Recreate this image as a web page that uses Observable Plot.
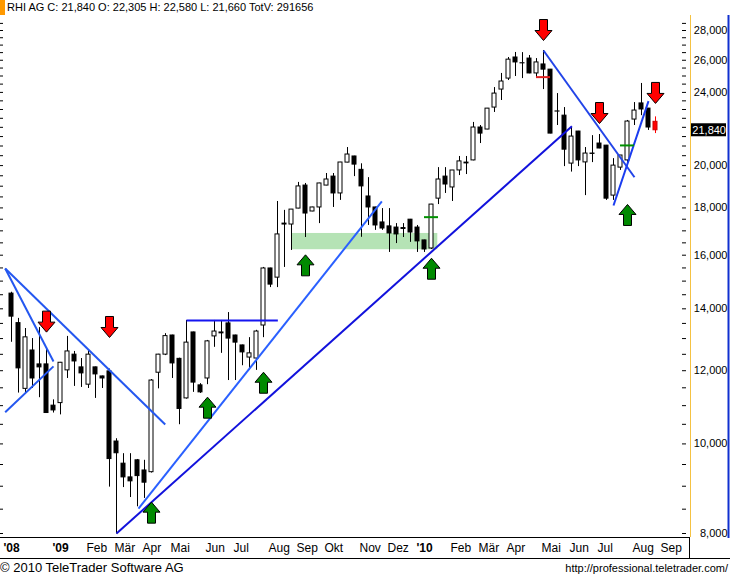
<!DOCTYPE html>
<html><head><meta charset="utf-8">
<script src="https://cdn.jsdelivr.net/npm/d3@7"></script>
<script src="https://cdn.jsdelivr.net/npm/@observablehq/plot@0.6"></script>
<style>
body{margin:0;background:#fff;}
#wrap{position:relative;width:730px;height:577px;overflow:hidden;font-family:"Liberation Sans",Arial,sans-serif;color:#000;}
#mark{position:absolute;left:0;top:0;width:5px;height:15px;background:#ff9900;}
#hdr{position:absolute;left:7px;top:0;font-size:11px;line-height:14px;white-space:nowrap;}
#chart{position:absolute;left:0;top:15px;}
#ftl{position:absolute;left:0;top:560px;font-size:13px;line-height:16px;white-space:nowrap;}
#ftr{position:absolute;right:2px;top:561px;font-size:11px;line-height:15px;white-space:nowrap;}
</style></head>
<body><div id="wrap"><div id="mark"></div><div id="hdr"></div><div id="chart"></div><div id="ftl"></div><div id="ftr"></div></div>
<script>
// ---- data (weekly bars, RHI AG, Nov 2008 - Aug 2010) ----
const symbolName = "RHI AG";
const totalVolume = 291656;
const open  = [14540,13510,11470,12620,12190,12190,11000,11070,12010,12490,12100,11590,12100,11830,11980,10060,9520,9200,9600,9360,9320,11940,12490,13100,12360,11200,13200,11570,11770,13070,13170,13500,13100,12780,12400,12370,13430,15480,15130,17310,17270,17970,19030,17840,18020,19030,19460,18660,20150,20460,19790,18520,18020,17360,17190,17140,17120,17480,17140,16600,16270,18420,19460,18940,19760,20110,20260,21990,21880,23110,24170,24840,26180,25800,26110,25160,25730,25400,22880,22650,20100,21770,20160,20590,21130,21020,18560,19900,20260,22430,23350,23050,22305];
const high  = [14590,13670,13330,13000,13360,12680,11160,12250,13070,12590,12370,12620,12110,11840,12050,10130,9760,9760,9620,9600,11740,12500,13160,13110,12380,13600,13210,11620,12940,13600,13600,13870,13110,12790,13030,13270,15520,15490,18290,17890,17930,19180,19130,18030,19140,19610,19610,20160,20920,20470,20090,19410,18030,17970,17970,17310,17310,17490,17230,16610,18160,19900,19900,19760,20460,20460,22270,22100,23060,24290,25160,26180,26510,26500,26310,26110,26640,25410,23930,23110,21990,21780,20920,21550,21610,21030,20350,20510,22380,23400,24540,23060,22580];
const low   = [12880,11350,11350,11480,11220,10790,10800,10750,11770,11540,11510,11480,11200,11480,8980,7990,8970,8750,8550,8730,9300,11470,12460,11770,10490,11180,11370,11340,11590,12720,12530,11710,11710,12150,12010,12010,13030,14760,14760,15520,16190,17960,16720,17830,17310,19020,18020,18340,20140,19460,16730,17230,17020,17020,16110,16470,16720,16520,16110,16110,16230,18150,18660,18290,19510,19560,20240,21130,21870,22830,23520,24720,24970,24840,25140,24910,24170,21650,22100,19950,19680,19950,18560,20150,20860,18340,18340,19760,20100,22100,22650,21830,21660];
const close = [13730,12070,13040,11770,12100,10800,10870,12240,12590,12280,11920,12490,11890,11770,9630,9770,9200,9110,9230,9080,11710,12490,13080,12220,10910,12870,11650,11370,12910,13230,13200,13000,12870,12560,12530,13230,15480,14870,16850,17270,17925,18990,17750,18020,19130,19320,18660,20155,20560,20050,18990,18020,17230,17100,16890,16850,17080,16930,16560,16230,18150,19320,19080,19758,20210,20150,21990,21660,23050,23930,24660,26040,25860,25810,25160,25860,25400,21660,22890,20810,21500,20260,20610,20610,20870,18420,20000,20510,22320,22940,23000,21990,21840];

// x-axis labels (bar index of first weekly bar of each month)
const tickIdx    = [0,7,11,15,19,23,28,32,37,41,45,50,54,59,63,67,71,76,80,84,89,93];
const tickLabels = ["'08","'09","Feb","Mär","Apr","Mai","Jun","Jul","Aug","Sep","Okt","Nov","Dez","'10","Feb","Mär","Apr","Mai","Jun","Jul","Aug","Sep"];
// y-axis labels
const yLabelTicks = [8000,10000,12000,14000,16000,18000,20000,24000,26000,28000];
const yMinorTicks = d3.range(8000, 29000, 500);

// drawn annotations: trend lines (bar index, price)
const lineStartIdx = [-0.9,-0.9,-0.9,15,18.14,25,76,86];
const lineStartVal = [15480,15480,10820,8000,8510,13600,26640,18110];
const lineEndIdx   = [21.96,6.0,6.0,80.06,52.91,38.05,89,91];
const lineEndVal   = [10495,12280,12130,22060,18290,13600,19430,23480];
const lineColors   = ["#2457f0","#2457f0","#2457f0","#1212dc","#2a60ff","#1515f0","#2244e8","#1a3cf0"];
// sell (down) and buy (up) arrows: bar index, price at arrow tip
const sellIdx = [5,14,76,84,92];
const sellVal = [13210,13035,27310,22210,23350];
const buyIdx  = [20,28,36,42,60,88];
const buyVal  = [8650,11235,11955,16015,15880,18155];
// short horizontal marks
const markIdx = [60,88,76];
const markVal = [17590,21030,24930];
const markColors = ["#009000","#009000","#e02020"];
// support zone
const zoneIdx = [40,60.9];
const zoneVal = [16220,16890];

// ---- build tables ----
const n = open.length, last = n - 1;
const candles = open.map((o,i)=>({i, open:o, high:high[i], low:low[i], close:close[i]}));
const trends = lineStartIdx.map((s,k)=>({i1:s, v1:lineStartVal[k], i2:lineEndIdx[k], v2:lineEndVal[k], c:lineColors[k]}));
const sells = sellIdx.map((s,k)=>({i:s, v:sellVal[k]}));
const buys = buyIdx.map((s,k)=>({i:s, v:buyVal[k]}));
const marks2 = markIdx.map((s,k)=>({i:s, v:markVal[k], c:markColors[k]}));
const zone = [{i1:zoneIdx[0], i2:zoneIdx[1], lo:zoneVal[0], hi:zoneVal[1]}];
const labelOf = new Map(tickIdx.map((t,k)=>[t,tickLabels[k]]));
const monthTicks = tickIdx.filter((t,k)=>!tickLabels[k].startsWith("'"));
const yearTicks = tickIdx.filter((t,k)=>tickLabels[k].startsWith("'"));

const arrowDown = {draw(ctx, size){const s=Math.sqrt(size/Math.PI)/10;
  ctx.moveTo(0,0);ctx.lineTo(8.5*s,-10*s);ctx.lineTo(4*s,-10*s);ctx.lineTo(4*s,-21*s);
  ctx.lineTo(-4*s,-21*s);ctx.lineTo(-4*s,-10*s);ctx.lineTo(-8.5*s,-10*s);ctx.closePath();}};
const arrowUp = {draw(ctx, size){const s=Math.sqrt(size/Math.PI)/10;
  ctx.moveTo(0,0);ctx.lineTo(8.5*s,10*s);ctx.lineTo(4*s,10*s);ctx.lineTo(4*s,21*s);
  ctx.lineTo(-4*s,21*s);ctx.lineTo(-4*s,10*s);ctx.lineTo(-8.5*s,10*s);ctx.closePath();}};

const fmt = d3.format(",");
const W = 730, H = 545, MR = 40, MB = 23;
const chart = Plot.plot({
  width: W, height: H, marginTop: 0, marginRight: MR, marginBottom: MB, marginLeft: 0,
  style: {fontFamily: "'Liberation Sans', Arial, sans-serif", fontSize: "12px", color: "#000", background: "#fff"},
  x: {type: "linear", domain: [-11/7, 97], axis: null},
  y: {type: "log", domain: [7921, 29066], axis: null},
  marks: [
    Plot.rect(zone, {x1:"i1", x2:"i2", y1:"lo", y2:"hi", fill:"#b5e3b5"}),
    Plot.ruleX(candles, {x:"i", y1:"low", y2:"high", stroke: d => d.i===last ? "#ff0000" : "#000000"}),
    Plot.rect(candles, {x1: d=>d.i-2/7, x2: d=>d.i+2/7, y1:"open", y2:"close",
      fill: d => d.i===last ? "#ff0000" : (d.close>=d.open ? "#ffffff" : "#000000"),
      stroke: d => d.i===last ? "#d00000" : "#000000", strokeWidth: 1}),
    Plot.link(trends, {x1:"i1", y1:"v1", x2:"i2", y2:"v2", stroke:"c", strokeWidth:2}),
    Plot.ruleY(marks2, {y:"v", x1: d=>d.i-1, x2: d=>d.i+1, stroke:"c", strokeWidth:2}),
    Plot.dot(sells, {x:"i", y:"v", symbol: arrowDown, r:10, fill:"#ff0000", stroke:"#000", strokeWidth:1}),
    Plot.dot(buys, {x:"i", y:"v", symbol: arrowUp, r:10, fill:"#008a00", stroke:"#000", strokeWidth:1}),
    Plot.axisY({anchor:"right", ticks: yMinorTicks, tickSize: 4, dx: -9, tickFormat: () => "", label: null}),
    Plot.axisY({anchor:"left", ticks: yMinorTicks, tickSize: 3, dx: 3, tickFormat: () => "", label: null}),
    Plot.axisY({anchor:"right", ticks: yLabelTicks, tickSize: 0, tickPadding: 37, textAnchor: "end", tickFormat: fmt, fontSize: 11, label: null}),
    Plot.axisX({anchor:"bottom", ticks: monthTicks, tickSize: 0, tickPadding: 6, textAnchor: "start", dx: -2, tickFormat: d => labelOf.get(d), fontSize: 12, label: null}),
    Plot.axisX({anchor:"bottom", ticks: yearTicks, tickSize: 0, tickPadding: 6, tickFormat: d => labelOf.get(d), fontSize: 12, fontWeight: "bold", label: null})
  ]
});

// frame decorations + current-price tag
const svg = d3.select(chart);
const fy = H - MB, fx = W - MR;
svg.append("line").attr("x1",0).attr("x2",fx).attr("y1",fy+0.5).attr("y2",fy+0.5).attr("stroke","#000");
svg.append("line").attr("x1",0).attr("x2",W).attr("y1",H-1.5).attr("y2",H-1.5).attr("stroke","#000");
svg.append("line").attr("x1",fx-0.5).attr("x2",fx-0.5).attr("y1",fy).attr("y2",H-1).attr("stroke","#000");
svg.append("line").attr("x1",fx+0.5).attr("x2",fx+0.5).attr("y1",0).attr("y2",fy).attr("stroke","#f5c242");
svg.append("line").attr("x1",W-1.5).attr("x2",W-1.5).attr("y1",0).attr("y2",fy+1).attr("stroke","#1030d0").attr("stroke-width",2);
const py = chart.scale("y").apply(close[last]);
svg.append("rect").attr("x",fx+1).attr("y",py-6.5).attr("width",35).attr("height",13).attr("fill","#000");
svg.append("text").attr("x",W-4).attr("y",py).attr("dy","0.35em").attr("text-anchor","end")
  .attr("fill","#fff").attr("font-size",11).text(fmt(close[last]));

document.getElementById("chart").appendChild(chart);
document.getElementById("hdr").textContent =
  `${symbolName} C: ${fmt(close[last])} O: ${fmt(open[last])} H: ${fmt(high[last])} L: ${fmt(low[last])} TotV: ${totalVolume}`;
document.getElementById("ftl").textContent = "© 2010 TeleTrader Software AG";
document.getElementById("ftr").textContent = "http://professional.teletrader.com/";
</script></body></html>
